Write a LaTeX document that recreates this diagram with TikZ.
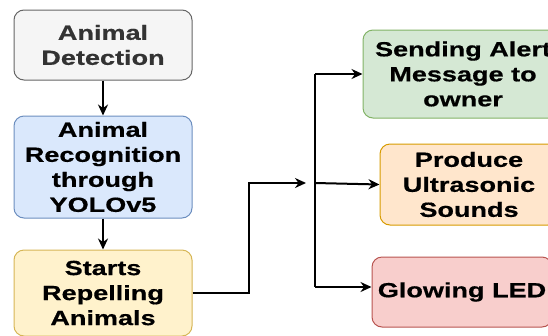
\documentclass[tikz,border=0pt]{standalone}
\usepackage{fontspec}
\setmainfont[FakeStretch=1.32, FakeBold=0.6]{Liberation Sans}
\usetikzlibrary{arrows.meta}

\definecolor{greyfill}{HTML}{F5F5F5}
\definecolor{greyline}{HTML}{666666}
\definecolor{greytext}{HTML}{333333}
\definecolor{bluefill}{HTML}{DAE8FC}
\definecolor{blueline}{HTML}{6C8EBF}
\definecolor{yellowfill}{HTML}{FFF2CC}
\definecolor{yellowline}{HTML}{D6B656}
\definecolor{greenfill}{HTML}{D5E8D4}
\definecolor{greenline}{HTML}{82B366}
\definecolor{orangefill}{HTML}{FFE6CC}
\definecolor{orangeline}{HTML}{D79B00}
\definecolor{redfill}{HTML}{F8CECC}
\definecolor{redline}{HTML}{B85450}

\tikzset{
  box/.style={draw, rounded corners=10pt, line width=1pt, align=center,
    font=\fontsize{20.5}{25}\selectfont\bfseries, inner sep=0pt},
  flow/.style={line width=2pt, -{Stealth[length=11pt,width=10pt]}}
}

\begin{document}
\begin{tikzpicture}[x=1pt, y=-1pt]
\useasboundingbox (0,0) rectangle (548,335);

% Left column
\node[box, fill=greyfill, draw=greyline, text=greytext, minimum width=178pt, minimum height=70pt] (detect) at (103,45) {Animal\\Detection};
\node[box, fill=bluefill, draw=blueline, minimum width=178pt, minimum height=102pt] (recog) at (103,167) {Animal\\Recognition\\through\\YOLOv5};
\node[box, fill=yellowfill, draw=yellowline, minimum width=178pt, minimum height=86pt] (repel) at (103,293) {Starts\\Repelling\\Animals};

% Right column (outputs)
\node[box, fill=greenfill, draw=greenline, minimum width=200pt, minimum height=88pt] (alert) at (463,74) {Sending Alert\\Message to\\owner};
\node[box, fill=orangefill, draw=orangeline, minimum width=178pt, minimum height=81pt] (sound) at (469,184.5) {Produce\\Ultrasonic\\Sounds};
\node[box, fill=redfill, draw=redline, minimum width=180pt, minimum height=70pt] (led) at (462,292) {Glowing LED};

% Branch points
\coordinate (split) at (306,183);
\coordinate (bustop) at (315,74);
\coordinate (busmid) at (315,183);
\coordinate (busbot) at (315,287);

% Edges
\draw[flow] (detect) -- (recog);
\draw[flow] (recog) -- (repel);
\draw[flow] (repel.east) -- (249,293) |- (split);
\draw[line width=2pt] (bustop) -- (busbot);
\draw[flow] (bustop) -- (alert.west);
\draw[flow] (busmid) -- (sound.west);
\draw[flow] (busbot) -- (led.west |- busbot);

\end{tikzpicture}
\end{document}
